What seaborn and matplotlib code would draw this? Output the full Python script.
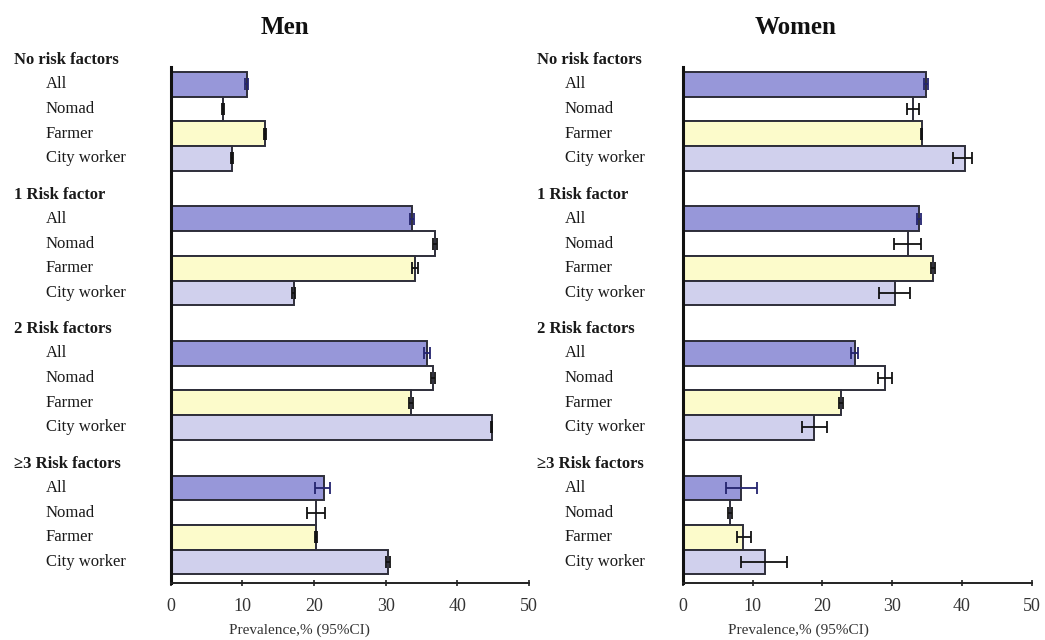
import matplotlib
matplotlib.use("Agg")
import matplotlib.pyplot as plt
import numpy as np
import pandas as pd
import seaborn as sns

# Risk-factor groups and occupation sub-rows
groups = ["No risk factors", "1 Risk factor", "2 Risk factors", "\u22653 Risk factors"]
occupations = ["All", "Nomad", "Farmer", "City worker"]

# Men: prevalence % with 95% CI bounds, one row per risk-factor group
men_prev = [[10.6, 7.3, 13.2, 8.6],
            [33.7, 36.9, 34.1, 17.2],
            [35.8, 36.6, 33.5, 44.8],
            [21.4, 20.3, 20.3, 30.3]]
men_lo = [[10.4, 7.2, 13.1, 8.5],
          [33.4, 36.6, 33.7, 17.0],
          [35.4, 36.3, 33.2, 44.7],
          [20.2, 19.0, 20.1, 30.0]]
men_hi = [[10.8, 7.4, 13.3, 8.7],
          [34.0, 37.2, 34.5, 17.4],
          [36.2, 36.9, 33.8, 44.9],
          [22.2, 21.5, 20.5, 30.6]]

# Women
women_prev = [[34.8, 33.0, 34.2, 40.4],
              [33.8, 32.3, 35.9, 30.4],
              [24.6, 28.9, 22.7, 18.8],
              [8.3, 6.7, 8.6, 11.7]]
women_lo = [[34.5, 32.1, 34.1, 38.7],
            [33.5, 30.3, 35.6, 28.1],
            [24.1, 27.9, 22.4, 17.1],
            [6.1, 6.4, 7.7, 8.3]]
women_hi = [[35.1, 33.9, 34.3, 41.4],
            [34.1, 34.1, 36.2, 32.5],
            [25.1, 30.0, 23.0, 20.7],
            [10.6, 7.0, 9.7, 14.9]]

x_ticks = [0, 10, 20, 30, 40, 50]
x_label = "Prevalence,% (95%CI)"

palette = {"All": "#9797d9", "Nomad": "#ffffff",
           "Farmer": "#fcfbcb", "City worker": "#d0d0ed"}
err_colors = {"All": "#23236e", "Nomad": "#111111",
              "Farmer": "#111111", "City worker": "#111111"}

GROUP_STEP = 5.45  # vertical distance between groups, in bar heights

sns.set_theme(style="white")
plt.rcParams["font.family"] = ["Liberation Serif", "DejaVu Serif"]


def build_frame(prev, lo, hi):
    rows = []
    for g, name in enumerate(groups):
        for b, occ in enumerate(occupations):
            rows.append({"group": name, "occupation": occ,
                         "pos": g * GROUP_STEP + b,
                         "value": prev[g][b], "lo": lo[g][b], "hi": hi[g][b]})
    return pd.DataFrame(rows)


def draw_panel(ax, df, head_pt, sub_pt, label_x):
    sns.barplot(data=df, x="value", y="pos", hue="occupation",
                hue_order=occupations, palette=palette, orient="h",
                native_scale=True, dodge=False, width=1.0, saturation=1,
                errorbar=None, legend=False, edgecolor="#2e2e3a",
                linewidth=1.4, ax=ax)
    for occ in occupations:
        sub = df[df["occupation"] == occ]
        ax.errorbar(sub["value"], sub["pos"],
                    xerr=[sub["value"] - sub["lo"], sub["hi"] - sub["value"]],
                    fmt="none", ecolor=err_colors[occ], elinewidth=1.3,
                    capsize=4, capthick=1.3, zorder=5)

    ax.set_xlim(0, 50)
    ax.set_ylim(20.2, -0.7)
    ax.set_xticks(x_ticks)
    ax.set_xticklabels([str(t) for t in x_ticks], fontsize=13, color="#333333")
    ax.set_yticks([])
    ax.set_ylabel("")
    ax.set_xlabel(x_label, fontsize=11, color="#333333")
    ax.xaxis.label.set_va("center")
    ax.xaxis.set_label_coords(label_x, -0.091)
    ax.tick_params(axis="x", direction="inout", length=5, width=1.2,
                   color="#222222", pad=8, bottom=True)
    for side in ("top", "right"):
        ax.spines[side].set_visible(False)
    ax.spines["left"].set_linewidth(2.2)
    ax.spines["left"].set_color("#111111")
    ax.spines["bottom"].set_linewidth(1.4)
    ax.spines["bottom"].set_color("#222222")

    # Group headers and occupation row labels to the left of the axis
    for g, name in enumerate(groups):
        y0 = g * GROUP_STEP
        ax.annotate(name, xy=(0, y0 - 0.97), xycoords=("axes fraction", "data"),
                    xytext=(head_pt, 0), textcoords="offset points",
                    ha="left", va="center", fontsize=12, fontweight="bold",
                    color="#1a1a1a", annotation_clip=False)
        for b, occ in enumerate(occupations):
            ax.annotate(occ, xy=(0, y0 + b), xycoords=("axes fraction", "data"),
                        xytext=(sub_pt, 0), textcoords="offset points",
                        ha="left", va="center", fontsize=12,
                        color="#1a1a1a", annotation_clip=False)


fig = plt.figure(figsize=(10.45, 6.4), dpi=100)
fig.patch.set_facecolor("white")
W, H = 1045, 640
ax_men = fig.add_axes([170.5 / W, (H - 583) / H, 358.5 / W, 516 / H])
ax_women = fig.add_axes([683 / W, (H - 583) / H, 348.7 / W, 516 / H])

draw_panel(ax_men, build_frame(men_prev, men_lo, men_hi),
           head_pt=-113, sub_pt=-90, label_x=0.36)
draw_panel(ax_women, build_frame(women_prev, women_lo, women_hi),
           head_pt=-105, sub_pt=-85, label_x=0.33)

fig.text(285 / W, 1 - 27 / H, "Men", ha="center", va="center",
         fontsize=18, fontweight="bold", color="#111111")
fig.text(796 / W, 1 - 27 / H, "Women", ha="center", va="center",
         fontsize=18, fontweight="bold", color="#111111")

fig.savefig("out.png", dpi=100, facecolor="white")
